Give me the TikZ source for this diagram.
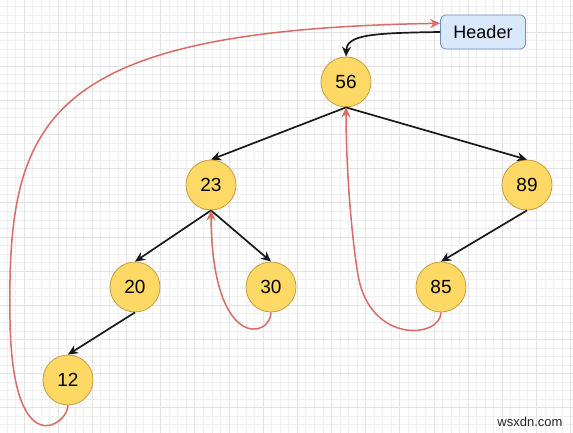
\documentclass[tikz,border=0pt]{standalone}
\usepackage{fontspec}
\setmainfont{Liberation Sans}
\usetikzlibrary{arrows.meta,calc}
\usepackage{xcolor}
\definecolor{key-fill}{HTML}{FFD966}
\definecolor{key-line}{HTML}{CC9944}
\definecolor{head-fill}{HTML}{DAE8FC}
\definecolor{head-line}{HTML}{6C8EBF}
\definecolor{thread}{HTML}{D86C66}
\colorlet{minor-grid}{black!6}
\colorlet{major-grid}{black!11}
\tikzset{
  key/.style={circle, draw=key-line, fill=key-fill, line width=0.8pt,
    minimum size=50pt, inner sep=0pt, font=\fontsize{19}{19}\selectfont},
  head/.style={rectangle, rounded corners=5pt, draw=head-line, fill=head-fill,
    line width=0.8pt, minimum width=85pt, minimum height=34pt,
    font=\fontsize{18}{18}\selectfont},
  child edge/.style={draw=black!90, line width=1.7pt, -{Stealth[length=10pt,width=9pt]}},
  thread edge/.style={draw=thread, line width=1.5pt, -{Stealth[length=10pt,width=9pt]}},
}

\begin{document}
\begin{tikzpicture}[x=1pt, y=-1pt]

\fill[white] (0,0) rectangle (573,433);
\useasboundingbox (0,0) rectangle (573,433);

\begin{scope}
\clip (0,0) rectangle (573,433);
\foreach \i in {0,...,67} \draw[minor-grid, line width=0.8pt] ({6.95+8.54*\i},0) -- ++(0,433);
\foreach \i in {0,...,50} \draw[minor-grid, line width=0.8pt] (0,{6.4+8.54*\i}) -- ++(573,0);
\foreach \i in {0,...,17} \draw[major-grid, line width=0.8pt] ({24+34.16*(\i-1)},0) -- ++(0,433);
\foreach \i in {0,...,13} \draw[major-grid, line width=0.8pt] (0,{32+34.16*(\i-1)}) -- ++(573,0);
\end{scope}%grid scope

\node(header)[head] at (483,32) {Header};
\node(n56)[key] at (346,82) {56};
\node(n23)[key] at (211,185) {23};
\node(n89)[key] at (527,185) {89};
\node(n20)[key] at (135,287) {20};
\node(n30)[key] at (271,287) {30};
\node(n85)[key] at (441,287) {85};
\node(n12)[key] at (68,380) {12};

\foreach \a/\b in {n56/n23, n56/n89, n23/n20, n23/n30, n89/n85, n20/n12}
  \draw[child edge] (\a.south) -- (\b.north);

\draw[child edge] (header.west) .. controls (370,33) and (347,35) .. (n56.north);

% threads back to the successor
\coordinate (hdrin) at ($(header.north west)!0.25!(header.south west)$);
\draw[thread edge] (n12.south) .. controls (68,425) and (12.2,465) .. (10,320)
      .. controls (7,120) and (40,30) .. (hdrin);
\draw[thread edge] (n30.south) .. controls (271,338) and (212,352) .. (n23.south);
\draw[thread edge] (n85.south) .. controls (441,338) and (370,345) .. (358,275)
      .. controls (352,240) and (346,170) .. (n56.south);

\node(mark)[font=\fontsize{13}{13}\selectfont, text=black!85] at (530,422) {wsxdn.com};

\end{tikzpicture}
\end{document}
